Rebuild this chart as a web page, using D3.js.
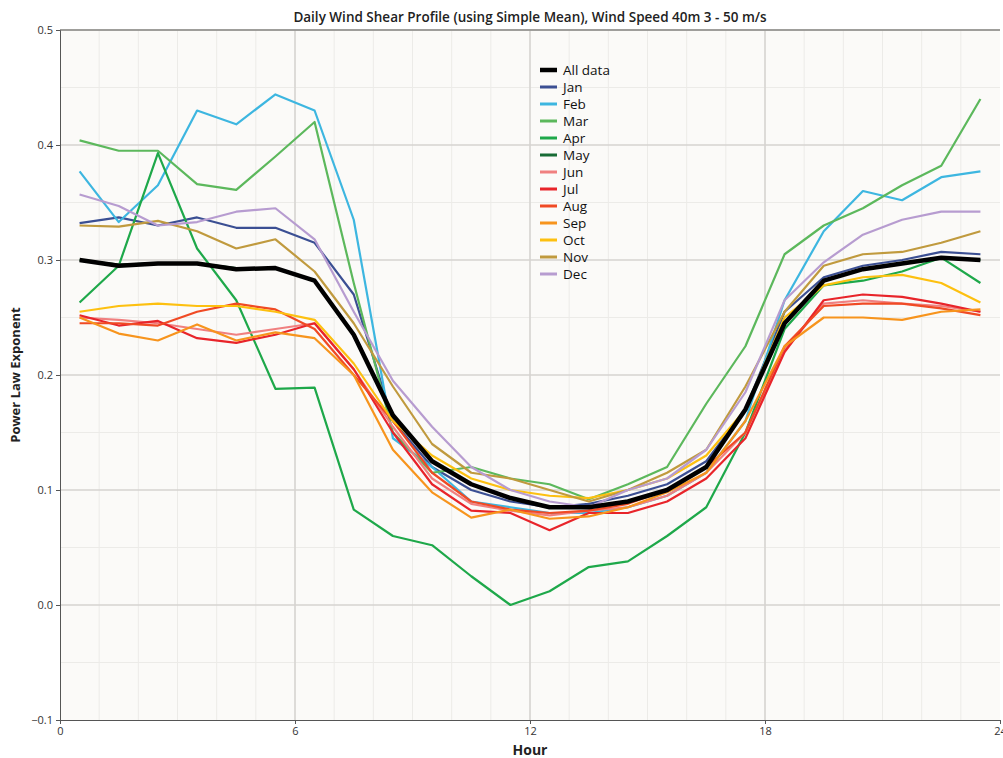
<!DOCTYPE html>
<html><head><meta charset="utf-8">
<script src="https://cdn.jsdelivr.net/npm/d3@7"></script>
<style>body{margin:0;background:#fff;font-family:"Open Sans",sans-serif}</style>
</head><body><div class="canvas"></div>
<script>
const hours = d3.range(24).map(i => i + 0.5);
const seriesNames = ["All data","Jan","Feb","Mar","Apr","May","Jun","Jul","Aug","Sep","Oct","Nov","Dec"];
const colors = ["#000000","#3b4f93","#3db6e0","#5cb85c","#1ea84a","#176b35","#f08080","#e8242a","#f04a24","#f7941d","#fdc010","#c09a3e","#b79cd0"];
const allData = [0.300,0.295,0.297,0.297,0.292,0.293,0.282,0.235,0.165,0.125,0.105,0.093,0.085,0.085,0.090,0.100,0.120,0.170,0.245,0.282,0.292,0.297,0.302,0.300];
const jan = [0.332,0.337,0.330,0.337,0.328,0.328,0.315,0.270,0.160,0.120,0.100,0.090,0.085,0.088,0.095,0.105,0.125,0.170,0.255,0.285,0.295,0.300,0.307,0.305];
const feb = [0.377,0.333,0.365,0.430,0.418,0.444,0.430,0.335,0.145,0.120,0.090,0.085,0.080,0.080,0.085,0.095,0.115,0.160,0.265,0.325,0.360,0.352,0.372,0.377];
const mar = [0.404,0.395,0.395,0.366,0.361,0.390,0.420,0.280,0.150,0.115,0.120,0.110,0.105,0.092,0.105,0.120,0.175,0.225,0.305,0.330,0.345,0.365,0.382,0.440];
const apr = [0.263,0.295,0.393,0.310,0.265,0.188,0.189,0.083,0.060,0.052,0.025,0.000,0.012,0.033,0.038,0.060,0.085,0.150,0.240,0.278,0.282,0.290,0.302,0.280];
const may = [0.300,0.296,0.297,0.297,0.293,0.293,0.282,0.236,0.165,0.125,0.105,0.093,0.085,0.085,0.090,0.100,0.120,0.170,0.245,0.282,0.292,0.297,0.302,0.300];
const jun = [0.250,0.248,0.245,0.240,0.235,0.240,0.245,0.205,0.155,0.110,0.088,0.082,0.078,0.082,0.085,0.095,0.115,0.150,0.222,0.262,0.265,0.262,0.260,0.255];
const jul = [0.252,0.243,0.247,0.232,0.228,0.235,0.245,0.205,0.150,0.105,0.082,0.080,0.065,0.080,0.080,0.090,0.110,0.145,0.220,0.265,0.270,0.268,0.262,0.255];
const aug = [0.245,0.245,0.243,0.255,0.262,0.257,0.240,0.200,0.160,0.115,0.090,0.083,0.080,0.082,0.088,0.100,0.120,0.150,0.225,0.260,0.262,0.262,0.258,0.252];
const sep = [0.250,0.236,0.230,0.244,0.230,0.237,0.232,0.200,0.135,0.098,0.076,0.083,0.075,0.077,0.085,0.098,0.115,0.160,0.225,0.250,0.250,0.248,0.255,0.257];
const oct = [0.255,0.260,0.262,0.260,0.260,0.255,0.248,0.210,0.160,0.130,0.110,0.100,0.095,0.093,0.100,0.110,0.130,0.170,0.250,0.278,0.285,0.287,0.280,0.263];
const nov = [0.330,0.329,0.334,0.325,0.310,0.318,0.290,0.245,0.190,0.140,0.115,0.110,0.100,0.090,0.100,0.115,0.135,0.190,0.255,0.295,0.305,0.307,0.315,0.325];
const dec = [0.357,0.347,0.330,0.333,0.342,0.345,0.318,0.255,0.195,0.155,0.120,0.100,0.090,0.085,0.100,0.110,0.135,0.185,0.265,0.298,0.322,0.335,0.342,0.342];
const seriesValues = [allData,jan,feb,mar,apr,may,jun,jul,aug,sep,oct,nov,dec];
const xTicks = [0,6,12,18,24];
const yTicks = [-0.1,0,0.1,0.2,0.3,0.4,0.5];

const margin = { top: 30, right: 3, bottom: 38, left: 60 };
const width = 1003 - margin.left - margin.right;
const height = 758 - margin.top - margin.bottom;

const svg = d3.select(".canvas").append("svg")
  .attr("width", 1003).attr("height", 758)
  .append("g").attr("transform", `translate(${margin.left},${margin.top})`);

const x = d3.scaleLinear().domain([0, 24]).range([0, 940]);
const y = d3.scaleLinear().domain([-0.1, 0.5]).range([height, 0]);

svg.append("rect").attr("width", width).attr("height", height).attr("fill", "#fbfaf8");

// minor grid
svg.selectAll(".vMinor").data(d3.range(1, 24)).join("line")
  .attr("x1", d => x(d)).attr("x2", d => x(d)).attr("y1", 0).attr("y2", height)
  .attr("stroke", "#ecebe8").attr("stroke-width", 1);
svg.selectAll(".hMinor").data(d3.range(-0.05, 0.5, 0.1)).join("line")
  .attr("x1", 0).attr("x2", width).attr("y1", d => y(d)).attr("y2", d => y(d))
  .attr("stroke", "#ecebe8").attr("stroke-width", 1);
// major grid
svg.selectAll(".vMajor").data(xTicks.slice(1, -1)).join("line")
  .attr("x1", d => x(d)).attr("x2", d => x(d)).attr("y1", 0).attr("y2", height)
  .attr("stroke", "#d6d3d0").attr("stroke-width", 1.5);
svg.selectAll(".hMajor").data(yTicks.slice(1)).join("line")
  .attr("x1", 0).attr("x2", width).attr("y1", d => y(d)).attr("y2", d => y(d))
  .attr("stroke", "#d6d3d0").attr("stroke-width", 1.5);
svg.append("line").attr("x1", 0).attr("x2", width).attr("y1", 0).attr("y2", 0)
  .attr("stroke", "#8a8886").attr("stroke-width", 1.5);

const line = d3.line().x((d, i) => x(hours[i])).y(d => y(d));
const order = [5,1,2,3,4,6,7,8,9,10,11,12,0];
order.forEach(k => {
  svg.append("path").datum(seriesValues[k]).attr("d", line)
    .attr("fill", "none").attr("stroke", colors[k])
    .attr("stroke-width", k === 0 ? 4.5 : 2.2).attr("stroke-linejoin", "round");
});

const xAxis = svg.append("g").attr("transform", `translate(0,${height})`)
  .call(d3.axisBottom(x).tickValues(xTicks).tickSize(4));
const yAxis = svg.append("g")
  .call(d3.axisLeft(y).tickValues(yTicks).tickFormat(d3.format(".1f")).tickSize(4));
[xAxis, yAxis].forEach(a => {
  a.selectAll("text").attr("font-size", 11).attr("fill", "#333").attr("font-family", "Open Sans");
  a.selectAll("path,line").attr("stroke", "#555");
});

svg.append("text").attr("x", 470).attr("y", -8).attr("text-anchor", "middle")
  .attr("font-size", 13.5).attr("font-weight", 600).attr("fill", "#222")
  .text("Daily Wind Shear Profile (using Simple Mean), Wind Speed 40m 3 - 50 m/s");
svg.append("text").attr("x", x(12)).attr("y", height + 35).attr("text-anchor", "middle")
  .attr("font-size", 14).attr("font-weight", "bold").attr("fill", "#222").text("Hour");
svg.append("text").attr("transform", `translate(-40,${y(0.2)}) rotate(-90)`)
  .attr("text-anchor", "middle").attr("font-size", 13).attr("font-weight", "bold")
  .attr("fill", "#222").text("Power Law Exponent");

const legend = svg.append("g").attr("transform", "translate(480,40)");
seriesNames.forEach((n, i) => {
  const g = legend.append("g").attr("transform", `translate(0,${i * 17})`);
  g.append("line").attr("x1", 0).attr("x2", 17).attr("stroke", colors[i])
    .attr("stroke-width", i === 0 ? 4.5 : 3);
  g.append("text").attr("x", 23).attr("y", 5).attr("font-size", 13.5)
    .attr("fill", "#111").text(n);
});
</script></body></html>
